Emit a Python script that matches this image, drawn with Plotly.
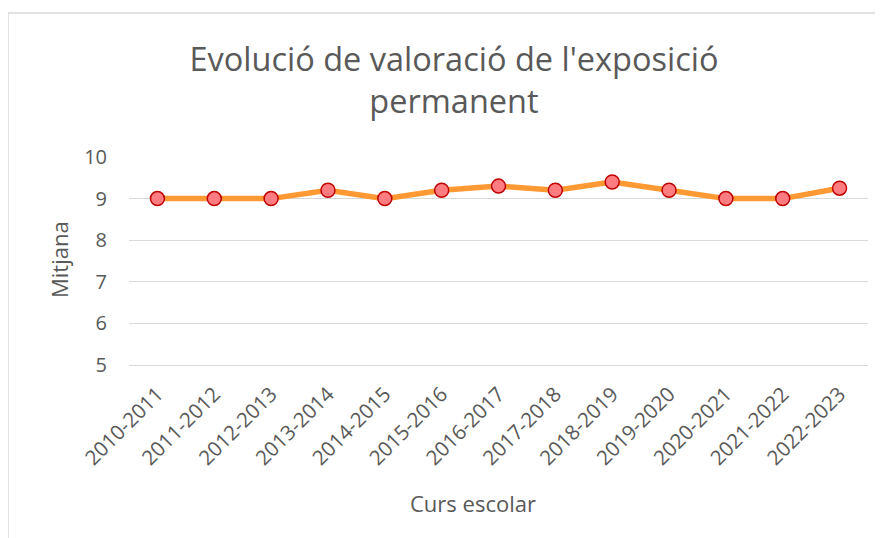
import plotly.graph_objects as go

cursos = ["2010-2011", "2011-2012", "2012-2013", "2013-2014", "2014-2015",
          "2015-2016", "2016-2017", "2017-2018", "2018-2019", "2019-2020",
          "2020-2021", "2021-2022", "2022-2023"]
mitjana = [9.0, 9.0, 9.0, 9.2, 9.0, 9.2, 9.3, 9.2, 9.4, 9.2, 9.0, 9.0, 9.25]
y_ticks = [5, 6, 7, 8, 9, 10]

FONT = "Open Sans"
GRAY = "#595959"
GRID = "#D9D9D9"

OFF = 8  # page body margin
W, H = 883 - OFF, 538 - OFF
L, R, T, B = 129 - OFF, 15, 157 - OFF, 173
pw, ph = W - L - R, H - T - B

fig = go.Figure()
fig.add_trace(go.Scatter(
    x=cursos, y=mitjana, mode="lines+markers",
    line=dict(color="#FF9933", width=5.5),
    marker=dict(size=14, color="#FF7C80", line=dict(color="#C00000", width=1.5)),
    showlegend=False,
))

def px_x(sx):
    return (sx - OFF - L) / pw

def px_y(sy):
    return (H - B - (sy - OFF)) / ph

fig.update_layout(
    width=W, height=H,
    margin=dict(l=L, r=R, t=T, b=B, autoexpand=False),
    paper_bgcolor="white", plot_bgcolor="white",
    font=dict(family=FONT, color=GRAY, size=20),
    title=dict(
        text="Evolució de valoració de l'exposició<br>permanent",
        x=(454 - OFF) / W, xref="container", xanchor="center",
        y=1 - 63 / H, yref="container", yanchor="middle",
        font=dict(family=FONT, size=32.5, color=GRAY),
    ),
    xaxis=dict(
        type="category", tickangle=-45, showgrid=False, automargin=False,
        showline=True, linecolor=GRID, linewidth=1,
        tickfont=dict(size=20.5, color=GRAY), ticklabelstandoff=8,
        range=[-0.5, len(cursos) - 0.5],
    ),
    yaxis=dict(
        range=[5, 10], tickvals=y_ticks, showgrid=True, gridcolor=GRID, gridwidth=1,
        zeroline=False, showline=False, automargin=False,
        tickfont=dict(size=20, color=GRAY), ticklabelstandoff=21,
    ),
    annotations=[
        dict(text="Curs escolar", x=px_x(473), y=px_y(503), xref="paper", yref="paper",
             showarrow=False, xanchor="center", yanchor="middle",
             font=dict(family=FONT, size=22, color=GRAY)),
        dict(text="Mitjana", x=px_x(59), y=px_y(260), xref="paper", yref="paper",
             showarrow=False, xanchor="center", yanchor="middle", textangle=-90,
             font=dict(family=FONT, size=22, color=GRAY)),
    ],
    shapes=[
        dict(type="line", xref="paper", yref="paper",
             x0=px_x(8), x1=px_x(8), y0=px_y(13), y1=px_y(560),
             line=dict(color=GRID, width=1.5)),
        dict(type="line", xref="paper", yref="paper",
             x0=px_x(8), x1=px_x(900), y0=px_y(13), y1=px_y(13),
             line=dict(color=GRID, width=1.5)),
    ],
)

fig.write_html("out.html")
